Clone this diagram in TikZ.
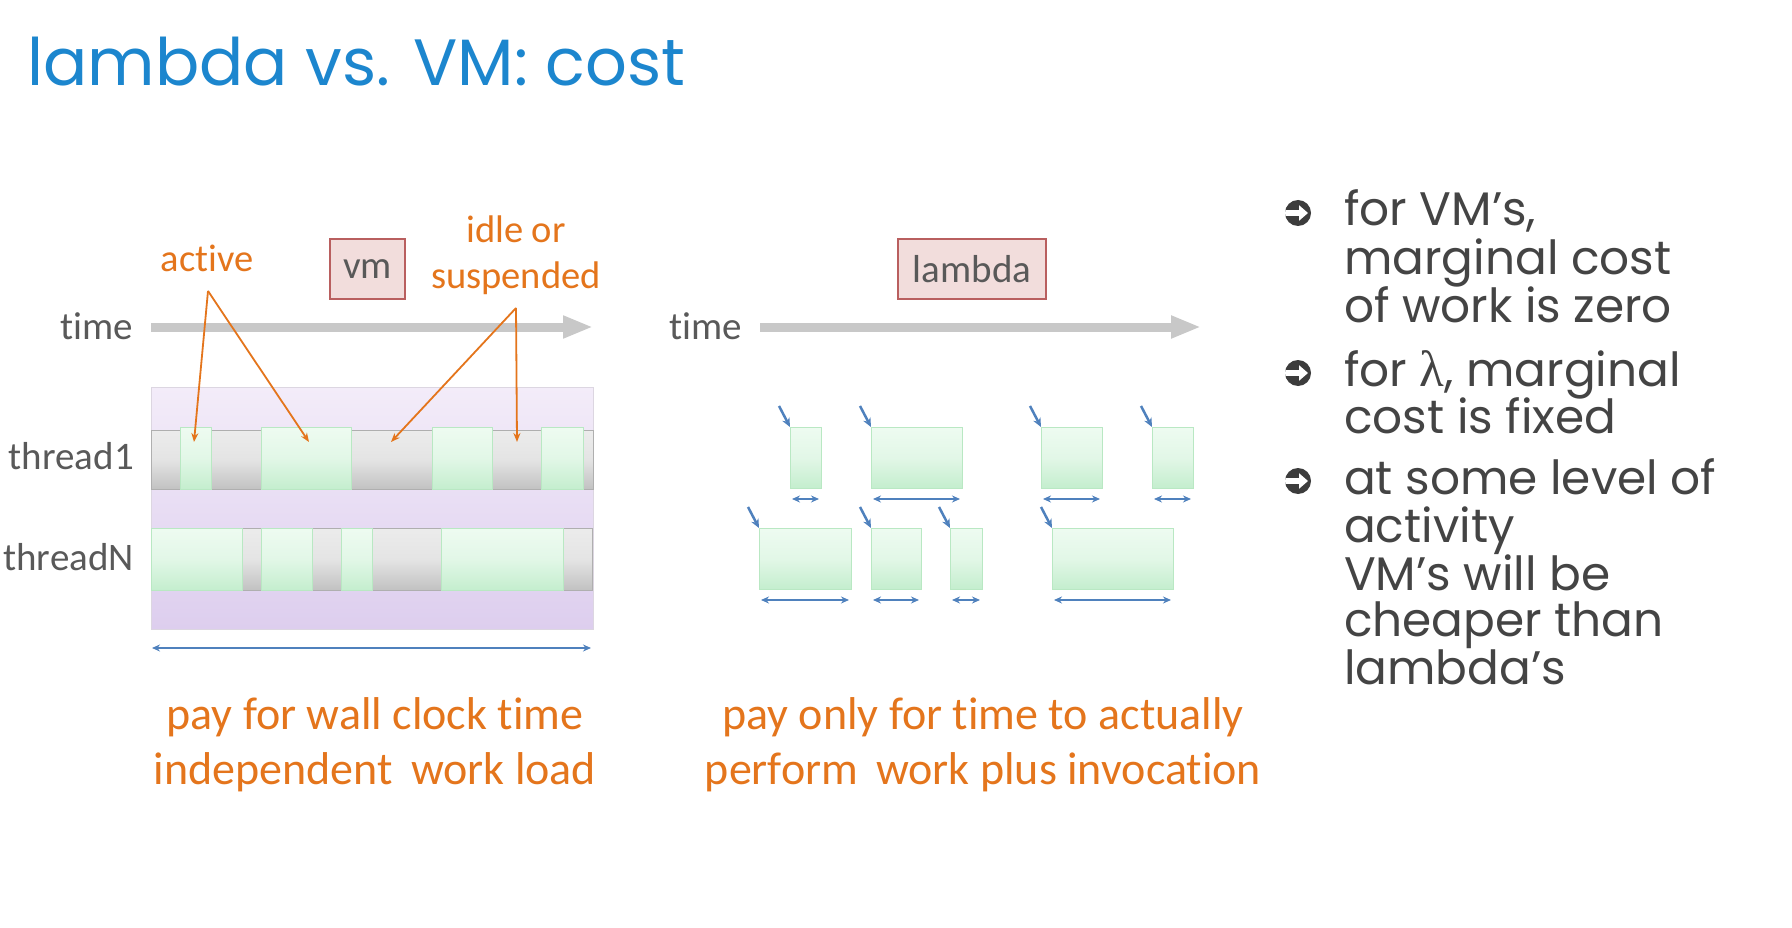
\documentclass[tikz,border=0pt]{standalone}
\usepackage{fontspec}
\setmainfont{Carlito}[Ligatures=NoCommon]
\newfontfamily\gothic{Poppins}
\newfontfamily\lserif{Liberation Serif}
\usetikzlibrary{arrows.meta,calc}
\definecolor{titleblue}{RGB}{28,134,206}
\definecolor{orng}{RGB}{228,117,28}
\definecolor{lbl}{RGB}{89,89,89}
\definecolor{btxt}{RGB}{68,68,68}
\definecolor{bsymc}{RGB}{60,60,60}
\definecolor{pinkfill}{RGB}{242,221,220}
\definecolor{pinkdraw}{RGB}{185,95,95}
\definecolor{arrblue}{RGB}{79,129,189}
\definecolor{timegray}{RGB}{200,200,200}
\definecolor{grtop}{RGB}{238,251,241}
\definecolor{grmid}{RGB}{226,247,231}
\definecolor{grbot}{RGB}{196,238,206}
\definecolor{grdraw}{RGB}{185,232,195}
\definecolor{gytop}{RGB}{236,236,236}
\definecolor{gymid}{RGB}{228,228,228}
\definecolor{gybot}{RGB}{194,194,194}
\definecolor{pptop}{RGB}{243,236,249}
\definecolor{ppbot}{RGB}{221,206,238}
\begin{document}
\begin{tikzpicture}[x=1pt,y=-1pt,
  lab/.style={text=lbl,font=\fontsize{39}{44}\selectfont,inner sep=0pt},
  olab/.style={text=orng,font=\fontsize{38.5}{44}\selectfont,inner sep=0pt},
  btm/.style={text=orng,font=\fontsize{46}{52}\selectfont,inner sep=0pt,anchor=base},
  bul/.style={text=btxt,font=\gothic\fontsize{47}{50}\selectfont,inner sep=0pt,anchor=base west},
  bsym/.style={circle,fill=bsymc,minimum size=26pt,inner sep=0pt,
    path picture={
      \fill[white] ($(path picture bounding box.west)+(-1,-2.8)$) rectangle ($(path picture bounding box.center)+(2.5,2.8)$);
      \fill[white] ($(path picture bounding box.center)+(1,-7.8)$) -- ($(path picture bounding box.center)+(10,0)$) -- ($(path picture bounding box.center)+(1,7.8)$) -- cycle;
    }},
  tbox/.style={draw=pinkdraw,fill=pinkfill,line width=1.2pt,text=lbl,font=\fontsize{39}{44}\selectfont,inner sep=0pt},
  timearrow/.style={draw=timegray,line width=9pt,-{Triangle[length=30pt,width=21pt]}},
  oarrow/.style={draw=orng,line width=1.8pt,-{Stealth[length=9pt,width=7pt]}},
  invoc/.style={draw=arrblue,line width=2.5pt,-{Stealth[length=9pt,width=8pt]}},
  span/.style={draw=arrblue,line width=2pt,{Stealth[length=8pt,width=7pt]}-{Stealth[length=8pt,width=7pt]}},
  greenbox/.style={top color=grtop,bottom color=grbot,middle color=grmid,draw=grdraw,line width=1pt},
  graybar/.style={top color=gytop,bottom color=gybot,middle color=gymid,draw=gybot!90!black,line width=0.6pt}
]
\useasboundingbox (0,0) rectangle (1792,928);
\fill[white] (0,0) rectangle (1792,928);

% title
\node[anchor=base west,text=titleblue,font=\gothic\fontsize{65.5}{72}\selectfont,inner sep=0pt] (title) at (27,86) {lambda vs. VM: cost};

% ---------- left: vm ----------
\node[lab,anchor=base east] (time1) at (133,339) {time};
\coordinate (t1s) at (151,327);
\coordinate (t1e) at (593,327);
\draw[timearrow] (t1s) -- (t1e);

\node[tbox,minimum width=75pt,minimum height=60pt] (vm) at (367.5,269) {vm};

\shade[top color=pptop,bottom color=ppbot,draw=pptop!80!gray,line width=0.6pt] (151,387) rectangle (593,629);

\node[lab,anchor=base east] (th1) at (134,469) {thread1};
\node[lab,anchor=base east] (thN) at (134,570) {threadN};

\shade[graybar] (151,430) rectangle (593,489);
\foreach \xa/\xb in {180/211,261/351,432/492,541/583}
  \shade[greenbox] (\xa,427) rectangle (\xb,489);
\shade[graybar] (151,528) rectangle (592,590);
\foreach \xa/\xb in {151/242,261/312,341/372,441/563}
  \shade[greenbox] (\xa,528) rectangle (\xb,590);

\node[olab,anchor=base] (active) at (207,272) {active};
\node[olab,anchor=base] (idle1) at (516,243) {idle or};
\node[olab,anchor=base] (idle2) at (516,288) {suspended};
\coordinate (aapex) at (208,291);
\coordinate (iapex) at (516,308);
\coordinate (act1) at (194,442);
\coordinate (act2) at (309,442);
\coordinate (idl1) at (391,442);
\coordinate (idl2) at (517,442);
\draw[oarrow] (aapex) -- (act1);
\draw[oarrow] (aapex) -- (act2);
\draw[oarrow] (iapex) -- (idl1);
\draw[oarrow] (iapex) -- (idl2);

\coordinate (w1) at (152,648);
\coordinate (w2) at (591,648);
\draw[span] (w1) -- (w2);

\node[btm] (p1) at (375,729) {pay for wall clock time};
\node[btm] (p2) at (375,784) {independent\ \,work load};

% ---------- middle: lambda ----------
\node[lab,anchor=base east] (time2) at (742,339) {time};
\coordinate (t2s) at (760,327);
\coordinate (t2e) at (1201,327);
\draw[timearrow] (t2s) -- (t2e);

\node[tbox,minimum width=148pt,minimum height=60pt] (lam) at (972,269) {lambda};

\foreach \n/\xa/\xb/\ya/\yb in {r1/790/821/427/488,r2/871/962/427/488,r3/1041/1102/427/488,r4/1152/1193/427/488,
  s1/759/851/528/589,s2/871/921/528/589,s3/950/982/528/589,s4/1052/1173/528/589}{
  \shade[greenbox] (\xa,\ya) rectangle (\xb,\yb);
  \coordinate (\n-nw) at (\xa,\ya);
  \coordinate (\n-in) at (\xa-11,\ya-21);
  \coordinate (\n-sl) at (\xa+2,\yb+11);
  \coordinate (\n-sr) at (\xb-2,\yb+11);
  \draw[invoc] (\n-in) -- (\n-nw);
  \draw[span] (\n-sl) -- (\n-sr);
}

\node[btm] (q1) at (983,729) {pay only for time to actually};
\node[btm] (q2) at (983,784) {perform\ \,work plus invocation};

% ---------- right: bullets ----------
\node[bsym] (bs1) at (1298,213) {};
\node[bsym] (bs2) at (1298,373) {};
\node[bsym] (bs3) at (1298,481) {};

\node[bul] (a1) at (1344,226) {for VM’s,};
\node[bul] (a2) at (1344,275) {marginal cost};
\node[bul] (a3) at (1344,322) {of work is zero};
\node[bul] (b1) at (1344,386) {for {\lserif\fontsize{51}{51}\selectfont λ}, marginal};
\node[bul] (b2) at (1344,433) {cost is fixed};
\node[bul] (c1) at (1344,494) {at some level of};
\node[bul] (c2) at (1344,542) {activity};
\node[bul] (c3) at (1344,590) {VM’s will be};
\node[bul] (c4) at (1344,636) {cheaper than};
\node[bul] (c5) at (1344,684) {lambda’s};
\end{tikzpicture}
\end{document}
